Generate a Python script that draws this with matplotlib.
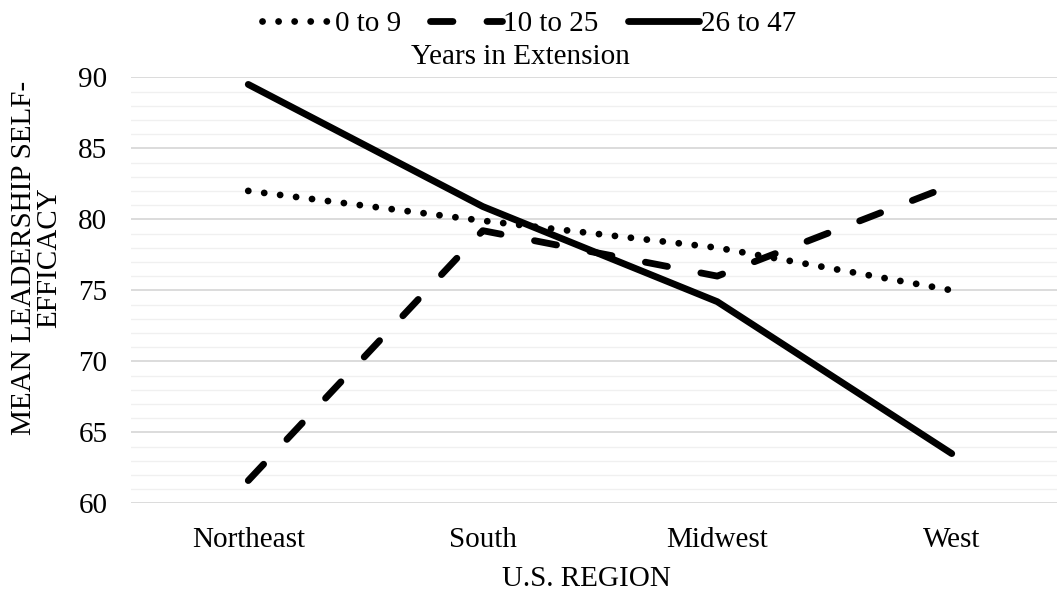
import numpy as np
import matplotlib.pyplot as plt

# data
regions = ['Northeast', 'South', 'Midwest', 'West']
years_0_9 = [82.0, 79.9, 78.0, 75.0]
years_10_25 = [61.6, 79.2, 76.0, 82.4]
years_26_47 = [89.5, 80.9, 74.2, 63.5]
series_names = ['0 to 9', '10 to 25', '26 to 47']
y_ticks = [60, 65, 70, 75, 80, 85, 90]

plt.rcParams['font.family'] = ['Liberation Serif', 'DejaVu Serif']
fs = 21

W, H = 1057, 592
fig = plt.figure(figsize=(W / 100, H / 100), dpi=100)
# plot area in pixels: x -0.5 -> 131, x 3.5 -> 1069, y 60 -> 503, y 90 -> 77
left, right, top, bottom = 131, 1069, 77.3, 503.3
ax = fig.add_axes([left / W, (H - bottom) / H, (right - left) / W, (bottom - top) / H])

x = np.arange(len(regions))
lw = 4.9
ax.plot(x, years_0_9, color='black', lw=lw, linestyle=(0, (0.01, 2.35)),
        dash_capstyle='round', solid_capstyle='round', label=series_names[0])
ax.plot(x, years_10_25, color='black', lw=lw, linestyle=(0, (3.3, 5.0)),
        dash_capstyle='round', label=series_names[1])
ax.plot(x, years_26_47, color='black', lw=lw, linestyle='-',
        solid_capstyle='round', solid_joinstyle='round', label=series_names[2])

ax.set_xlim(-0.5, 3.5)
ax.set_ylim(60, 90)
ax.set_xticks(x)
ax.set_xticklabels(regions)
ax.set_yticks(y_ticks)
ax.set_yticks(np.arange(60, 91, 1), minor=True)
ax.grid(True, axis='y', which='minor', color='#f0f0f0', lw=1.0, zorder=0)
ax.grid(True, axis='y', which='major', color='#d9d9d9', lw=1.3, zorder=0)
ax.set_axisbelow(True)
for s in ax.spines.values():
    s.set_visible(False)
ax.tick_params(axis='both', which='both', length=0, labelsize=fs)
ax.tick_params(axis='y', pad=17)
ax.tick_params(axis='x', pad=17)

fig.text(37 / W, 1 - 258 / H, 'MEAN LEADERSHIP SELF-\nEFFICACY', rotation=90,
         ha='center', va='center', fontsize=fs, multialignment='center',
         linespacing=0.95)
fig.text(586 / W, 1 - 579 / H, 'U.S. REGION', ha='center', va='center', fontsize=fs)
fig.text(520 / W, 1 - 57 / H, 'Years in Extension', ha='center', va='center', fontsize=fs)

fig.legend(loc='center', bbox_to_anchor=(529 / W, 1 - 24 / H), ncol=3,
           frameon=False, fontsize=fs, handlelength=2.45, handletextpad=0.05,
           columnspacing=1.0, borderaxespad=0, borderpad=0)

fig.savefig('out.png', dpi=100)
